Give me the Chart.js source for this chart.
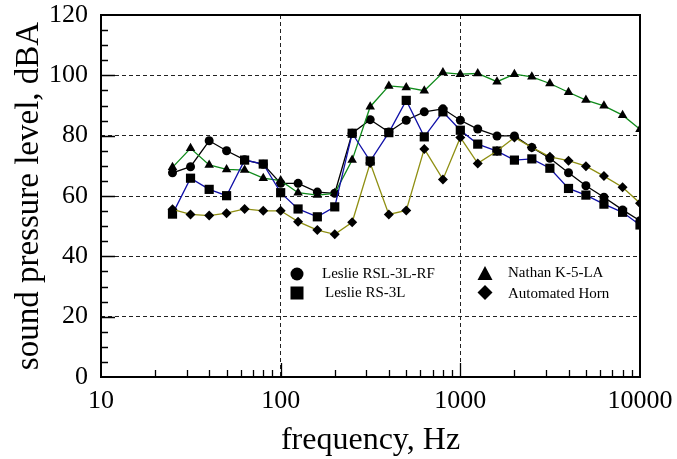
<!DOCTYPE html>
<html><head><meta charset="utf-8">
<script src="https://cdn.jsdelivr.net/npm/chart.js@4"></script>
<style>html,body{margin:0;padding:0;background:#fff}#wrap{width:677px;height:459px;position:relative}</style>
</head><body><div id="wrap"><canvas id="c" width="677" height="459"></canvas></div>
<script>
// ---- data ----
const frequencies = [25, 31.5, 40, 50, 63, 80, 100, 125, 160, 200, 250, 315, 400, 500, 630, 800, 1000, 1250, 1600, 2000, 2500, 3150, 4000, 5000, 6300, 8000, 10000];
const leslieRSL3LRF = [67.7, 69.7, 78.3, 75.0, 72.0, 70.5, 64.2, 64.2, 61.3, 60.9, 80.8, 85.3, 81.2, 85.1, 87.9, 88.9, 85.1, 82.2, 79.9, 79.9, 76.1, 72.5, 67.7, 63.4, 59.6, 55.4, 51.8];
const leslieRS3L    = [54.0, 65.9, 62.2, 60.1, 71.9, 70.6, 61.1, 55.7, 53.1, 56.4, 80.8, 71.6, 81.0, 91.7, 79.6, 87.9, 81.8, 77.2, 74.9, 71.9, 72.3, 69.2, 62.5, 60.3, 57.3, 54.6, 50.4];
const nathanK5LA    = [69.5, 75.8, 70.3, 68.8, 68.6, 65.9, 65.1, 61.1, 60.3, 60.9, 71.9, 89.6, 96.5, 96.0, 94.9, 100.9, 100.4, 100.6, 97.9, 100.4, 99.5, 97.3, 94.4, 91.8, 89.9, 86.8, 82.1];
const automatedHorn = [55.6, 53.9, 53.5, 54.3, 55.7, 55.1, 55.1, 51.5, 48.7, 47.3, 51.3, 70.9, 53.9, 55.2, 75.6, 65.5, 79.4, 70.8, 74.9, 79.4, 76.1, 73.0, 71.7, 69.9, 66.6, 62.9, 57.6];
const seriesNames = ['Leslie RSL-3L-RF', 'Leslie RS-3L', 'Nathan K-5-LA', 'Automated Horn'];
const xTickLabels = [10, 100, 1000, 10000];
const yMin = 0, yMax = 120, yStep = 20;
const xTitle = 'frequency, Hz';
const yTitle = 'sound pressure level, dBA';

const FONT = "'Liberation Serif', 'Times New Roman', serif";
const pts = arr => frequencies.map((f, i) => ({x: f, y: arr[i]}));

function ds(label, arr, color, style, radius, order) {
  return {
    label, data: pts(arr), borderColor: color, borderWidth: 1.3,
    pointStyle: style, pointRadius: radius, pointBackgroundColor: '#000',
    pointBorderColor: '#000', pointBorderWidth: 0, fill: false, tension: 0, order
  };
}

const framePlugin = {
  id: 'frame',
  beforeDatasetsDraw(chart) {
    const {ctx, chartArea: a, scales: {x, y}} = chart;
    ctx.save();
    ctx.strokeStyle = '#000';
    ctx.lineWidth = 1.3;
    ctx.beginPath();
    for (let v = yMin + 5; v < yMax; v += 5) {
      const py = Math.round(y.getPixelForValue(v)) + 0.5;
      const len = (v % yStep === 0) ? 14 : 7;
      ctx.moveTo(a.left, py); ctx.lineTo(a.left + len, py);
    }
    for (let d = 10; d < 10000; d *= 10) {
      for (let k = 2; k <= 10; k++) {
        const v = k * d;
        if (v >= 10000) continue;
        const px = Math.round(x.getPixelForValue(v)) + 0.5;
        const len = (k === 10) ? 14 : 7;
        ctx.moveTo(px, a.bottom); ctx.lineTo(px, a.bottom - len);
      }
    }
    ctx.stroke();
    ctx.lineWidth = 2;
    ctx.strokeRect(a.left, a.top, a.right - a.left, a.bottom - a.top);
    ctx.restore();
  }
};

const legendPlugin = {
  id: 'customLegend',
  afterDraw(chart) {
    const ctx = chart.ctx;
    ctx.save();
    ctx.fillStyle = '#000';
    ctx.font = "15px " + FONT;
    ctx.textBaseline = 'middle';
    ctx.textAlign = 'left';
    ctx.beginPath(); ctx.arc(297, 274, 6.5, 0, Math.PI * 2); ctx.fill();
    ctx.fillText(seriesNames[0], 322, 274);
    ctx.fillRect(290.5, 286.5, 13, 13);
    ctx.fillText(seriesNames[1], 325, 293);
    ctx.beginPath(); ctx.moveTo(485, 266); ctx.lineTo(492.5, 280); ctx.lineTo(477.5, 280); ctx.closePath(); ctx.fill();
    ctx.fillText(seriesNames[2], 508, 273);
    ctx.beginPath(); ctx.moveTo(485, 285); ctx.lineTo(492.5, 292.5); ctx.lineTo(485, 300); ctx.lineTo(477.5, 292.5); ctx.closePath(); ctx.fill();
    ctx.fillText(seriesNames[3], 508, 294);
    ctx.restore();
  }
};

new Chart(document.getElementById('c'), {
  type: 'line',
  data: {
    datasets: [
      ds(seriesNames[0], leslieRSL3LRF, '#000000', 'circle', 4.5, 3),
      ds(seriesNames[1], leslieRS3L, '#1010a8', 'rect', 6.5, 1),
      ds(seriesNames[2], nathanK5LA, '#0f8a1a', 'triangle', 5.5, 2),
      ds(seriesNames[3], automatedHorn, '#8f8f12', 'rectRot', 5, 0)
    ]
  },
  options: {
    responsive: false, animation: false, devicePixelRatio: 1,
    layout: {padding: {left: 0, right: 37, top: 15, bottom: 0}},
    plugins: {legend: {display: false}, tooltip: {enabled: false}},
    scales: {
      x: {
        type: 'logarithmic', min: 10, max: 10000,
        afterBuildTicks: s => { s.ticks = xTickLabels.map(v => ({value: v})); },
        afterFit: s => { s.height = 82; s.paddingLeft = 0; s.paddingRight = 0; },
        grid: {color: '#222', lineWidth: 1, drawTicks: false},
        border: {display: false, dash: [4, 3]},
        ticks: {autoSkip: false, maxRotation: 0, padding: 9, color: '#000',
          font: {family: FONT, size: 26, lineHeight: 1.2}, callback: v => String(v)},
        title: {display: true, text: xTitle, color: '#000',
          font: {family: FONT, size: 32, lineHeight: 1}, padding: {top: 0, bottom: 2}}
      },
      y: {
        min: yMin, max: yMax,
        afterFit: s => { s.width = 101; s.paddingTop = 0; s.paddingBottom = 0; },
        grid: {color: '#222', lineWidth: 1, drawTicks: false},
        border: {display: false, dash: [4, 3]},
        ticks: {stepSize: yStep, padding: 13, color: '#000',
          font: {family: FONT, size: 26, lineHeight: 1.2}},
        title: {display: true, text: yTitle, color: '#000',
          font: {family: FONT, size: 33, lineHeight: 1}, padding: {top: 13, bottom: 0}}
      }
    }
  },
  plugins: [framePlugin, legendPlugin]
});
</script></body></html>
